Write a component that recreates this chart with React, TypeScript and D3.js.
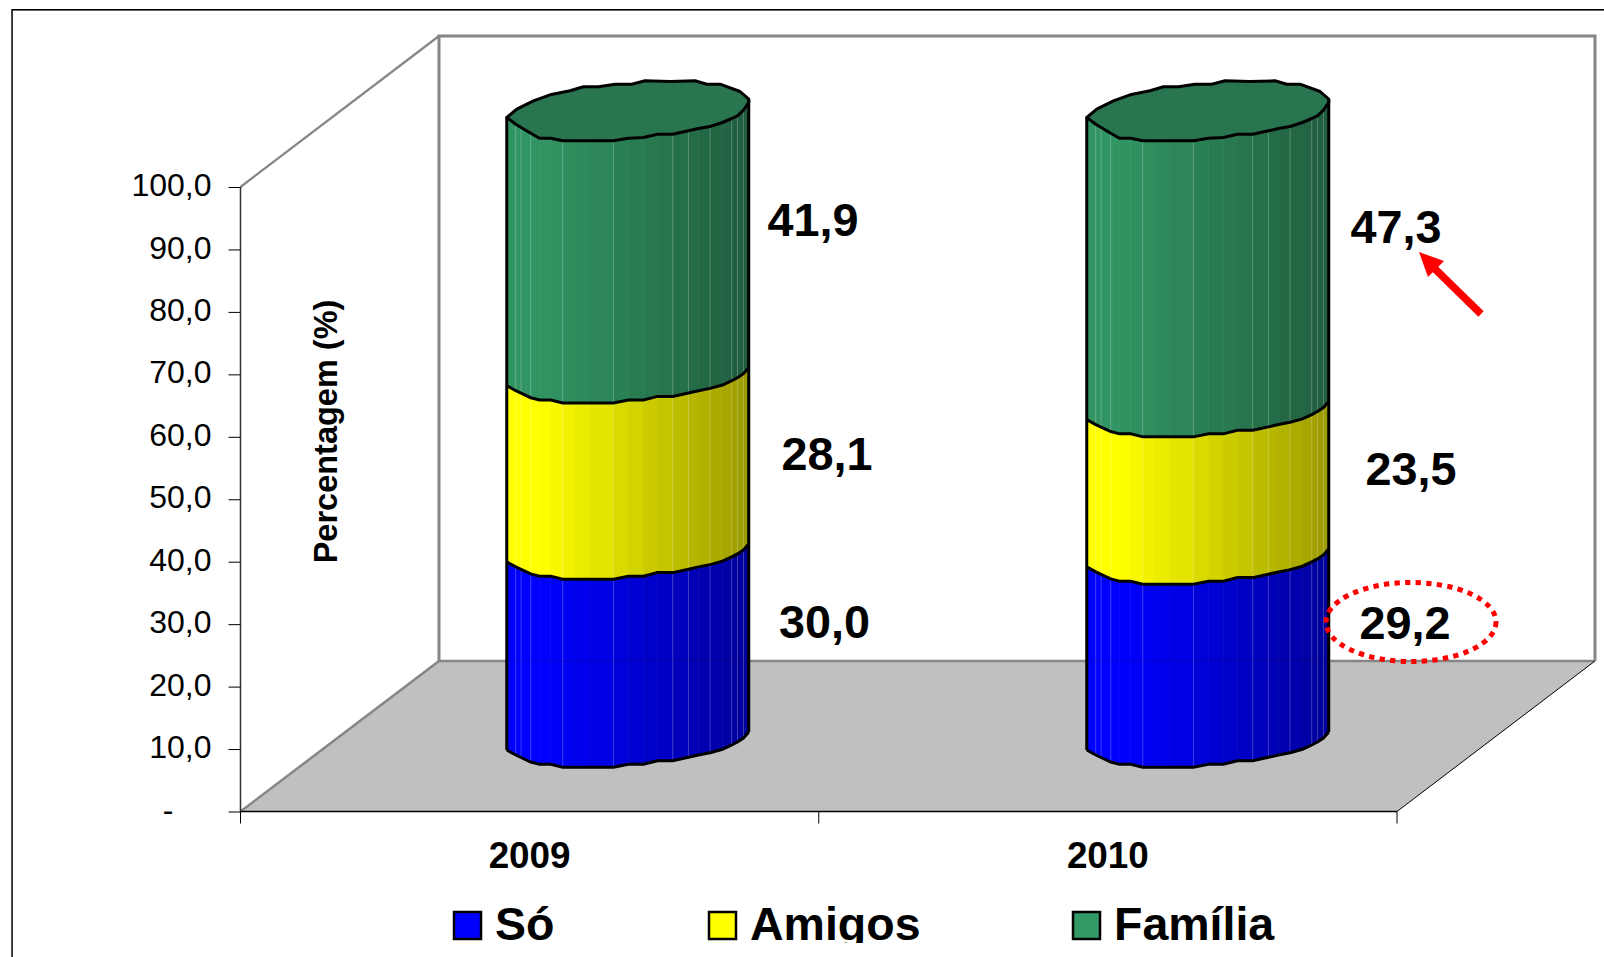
import React, { useEffect, useRef } from "react";
import * as d3 from "d3";

const years = ["2009", "2010"];
const seriesNames = ["Só", "Amigos", "Família"];
const soValues = [30.0, 29.2];
const amigosValues = [28.1, 23.5];
const familiaValues = [41.9, 47.3];
const yTicks = [0, 10, 20, 30, 40, 50, 60, 70, 80, 90, 100];

const baseColors = ["#0000ff", "#ffff00", "#319463"];
const darkColors = ["#000099", "#999900", "#1f5c3d"];
const legendColors = ["#0000ff", "#ffff00", "#339966"];

// jagged outline of the cylinder, px from its left point
const rimX = [0, 9, 14.3, 24, 32.7, 44, 56, 68.3, 83.3, 106.7, 121.7, 136.7, 150.7, 166, 181.7, 191.7, 203.3, 215.7, 225, 230.7, 236.7, 242];
const capFrontY = [0, 6.7, 10, 15.7, 20.7, 20.7, 23.3, 23.3, 23.3, 23.3, 20.7, 20, 16.7, 16.7, 13.3, 11, 9, 5, 1, -1.7, -7.3, -15];
const ringFrontY = [0, 5, 7.5, 12, 14.3, 14.3, 17.3, 17.3, 17.3, 17.3, 14.3, 14.3, 10.7, 10.7, 7.3, 5, 2.7, -0.7, -5, -8, -12, -18];
const capBack = [
  [242, -18.3], [233.3, -26], [213.3, -33.3], [200, -33.3], [188.3, -36.7], [163.3, -36], [138.3, -36.7],
  [125, -33.3], [108.3, -33.3], [91.7, -30.7], [76.7, -30.7], [63.3, -26.7], [43.3, -22.7], [26.7, -16.7],
  [10, -8.3], [0, 0],
];
const litEdges = [1, 2, 3, 6, 9, 13, 14, 16, 18, 19, 20];

const App = () => {
  const svgRef = useRef<SVGSVGElement>(null);

  useEffect(() => {
    const svg = d3.select(svgRef.current);
    svg.selectAll("*").remove();

    const font = "'Liberation Sans', Arial, sans-serif";
    const wall = { left: 439, right: 1595, top: 36, bottom: 661 };
    const floorX = 240.5;
    const floorRight = 1397;
    const depth = wall.left - floorX;

    const y = d3.scaleLinear().domain([0, 100]).range([811.5, 187]);
    const x = d3.scaleBand().domain(years).range([floorX, floorRight]);
    const barX = d3.scaleBand().domain(years).range([238, 1398]);
    const barY = d3.scaleLinear().domain([0, 100]).range([750, 123]);
    const capY = 117.5;
    const barWidth = 242;

    svg.append("rect").attr("x", 12.5).attr("y", 10.5).attr("width", 1700).attr("height", 1100)
      .attr("fill", "#fff").attr("stroke", "#aaa").attr("stroke-width", 1);
    svg.append("rect").attr("x", 12).attr("y", 9.7).attr("width", 1700).attr("height", 1100)
      .attr("fill", "none").attr("stroke", "#000").attr("stroke-width", 1.4);

    // walls and floor
    svg.append("path")
      .attr("d", `M${wall.left},${wall.bottom}V${wall.top}H${wall.right}V${wall.bottom}`)
      .attr("fill", "none").attr("stroke", "#868686").attr("stroke-width", 3);
    svg.append("path")
      .attr("d", `M${floorX},${y(100)}L${wall.left},${wall.top}`)
      .attr("fill", "none").attr("stroke", "#868686").attr("stroke-width", 2.2);
    svg.append("path")
      .attr("d", `M${floorX},${y(0)}L${wall.left},${wall.bottom}H${wall.right}L${floorRight},${y(0)}Z`)
      .attr("fill", "#c0c0c0");
    svg.append("path")
      .attr("d", `M${floorX},${y(0)}L${wall.left},${wall.bottom}H${wall.right}`)
      .attr("fill", "none").attr("stroke", "#868686").attr("stroke-width", 2.5);
    svg.append("path")
      .attr("d", `M${wall.right},${wall.bottom}L${floorRight},${y(0)}`)
      .attr("fill", "none").attr("stroke", "#000").attr("stroke-width", 1);

    // axes
    const yAxis = svg.append("g")
      .attr("transform", `translate(${floorX},0)`)
      .call(d3.axisLeft(y).tickValues(yTicks).tickSize(12).tickPadding(17)
        .tickFormat((d) => (d === 0 ? "-" : d3.format(".1f")(d as number).replace(".", ","))));
    yAxis.select(".domain").attr("d", `M0,${y(100)}V${y(0)}`).attr("stroke", "#333").attr("stroke-width", 1.5);
    yAxis.selectAll("line").attr("stroke", "#000").attr("stroke-width", 1);
    yAxis.selectAll("text").attr("font-family", font).attr("font-size", 32).attr("fill", "#000").attr("dy", "0.27em");
    // the zero dash sits further left because of the number format's padding
    yAxis.selectAll("text").filter((d) => d === 0).attr("dx", -38);

    const xAxis = svg.append("g").attr("transform", `translate(0,${y(0)})`);
    xAxis.append("path").attr("d", `M${floorX},0H${floorRight}`).attr("stroke", "#000").attr("stroke-width", 1.5);
    const edges = [...years.map((d) => x(d) as number), floorRight];
    xAxis.selectAll("line").data(edges).join("line")
      .attr("x1", (d) => d).attr("x2", (d) => d).attr("y1", 0).attr("y2", 12)
      .attr("stroke", "#000").attr("stroke-width", 1);
    xAxis.selectAll("text").data(years).join("text")
      .attr("x", (d) => (x(d) as number) + x.bandwidth() / 2).attr("y", 56)
      .attr("text-anchor", "middle").attr("font-family", font).attr("font-weight", "bold").attr("font-size", 37)
      .attr("textLength", 82).attr("lengthAdjust", "spacingAndGlyphs")
      .text((d) => d);

    svg.append("text")
      .attr("transform", "translate(337,431.5) rotate(-90)")
      .attr("text-anchor", "middle").attr("font-family", font).attr("font-weight", "bold").attr("font-size", 32.5)
      .text("Percentagem (%)");

    // stacked cylinders
    const rows = years.map((year, i) => ({ year, so: soValues[i], amigos: amigosValues[i], familia: familiaValues[i] }));
    const stacked = d3.stack<any>().keys(["so", "amigos", "familia"])(rows);
    const shade = d3.scaleLinear().domain([0, 0.12, 1]).range([0, 0, 1]).clamp(true);
    const line = d3.line();
    const ringAt = (yy: number) => rimX.map((dx, k) => [dx, yy + ringFrontY[k]] as [number, number]);
    const capFront = rimX.map((dx, k) => [dx, capFrontY[k]]);

    rows.forEach((row, i) => {
      const left = (barX(row.year) as number) + barX.bandwidth() / 2 + depth / 2 - barWidth / 2 + 0.5;
      const g = svg.append("g").attr("transform", `translate(${left},0)`);

      stacked.forEach((layer, s) => {
        const y0 = barY(layer[i][0]);
        const isTop = s === stacked.length - 1;
        const y1 = isTop ? capY : barY(layer[i][1]);
        const color = d3.interpolateRgb(baseColors[s], darkColors[s]);
        const lower = ringAt(y0);
        const upper = ringAt(y1);
        d3.pairs(d3.range(rimX.length)).forEach(([a, b]) => {
          g.append("path")
            .attr("d", `M${lower[a]}L${lower[b]}L${upper[b]}L${upper[a]}Z`)
            .attr("fill", color(shade(rimX[a] / barWidth)))
            .attr("stroke", color(shade(rimX[a] / barWidth)))
            .attr("stroke-width", 0.6);
        });
        litEdges.forEach((e) => {
          g.append("line").attr("x1", rimX[e]).attr("x2", rimX[e]).attr("y1", lower[e][1]).attr("y2", upper[e][1])
            .attr("stroke", "#fff").attr("stroke-opacity", 0.22).attr("stroke-width", 1);
        });
      });

      // back wall line shows faintly through the bar
      g.append("line").attr("x1", 0).attr("x2", barWidth).attr("y1", wall.bottom).attr("y2", wall.bottom)
        .attr("stroke", "#000").attr("stroke-opacity", 0.08).attr("stroke-width", 2);

      // rings and silhouette
      stacked.forEach((layer) => {
        g.append("path")
          .attr("d", line(ringAt(barY(layer[i][0]))))
          .attr("fill", "none").attr("stroke", "#000").attr("stroke-width", 3);
      });
      g.append("path").attr("d", line([...capFront, ...capBack].map(([dx, dy]) => [dx, capY + dy] as [number, number])) + "Z")
        .attr("fill", "#287550").attr("stroke", "#000").attr("stroke-width", 3).attr("stroke-linejoin", "round");
      g.append("line").attr("x1", 0).attr("x2", 0).attr("y1", capY).attr("y2", barY(0))
        .attr("stroke", "#000").attr("stroke-width", 3);
      g.append("line").attr("x1", barWidth).attr("x2", barWidth).attr("y1", capY - 18).attr("y2", barY(0) - 18)
        .attr("stroke", "#000").attr("stroke-width", 3);
    });

    // value labels, placed by hand next to each segment as in the source
    const labelX = [[824.5, 827, 813], [1405, 1411, 1396]];
    const labelY = [[638, 470, 236], [639, 485, 243]];
    stacked.forEach((layer, s) => {
      layer.forEach((d, i) => {
        svg.append("text")
          .attr("x", labelX[i][s]).attr("y", labelY[i][s])
          .attr("text-anchor", "middle").attr("font-family", font).attr("font-weight", "bold").attr("font-size", 46.8)
          .text(d3.format(".1f")(d[1] - d[0]).replace(".", ","));
      });
    });

    // highlights
    svg.append("ellipse").attr("cx", 1411).attr("cy", 622).attr("rx", 85).attr("ry", 39.5)
      .attr("fill", "none").attr("stroke", "#ff0000").attr("stroke-width", 5).attr("stroke-dasharray", "5.3 5.3");
    svg.append("line").attr("x1", 1481).attr("y1", 314).attr("x2", 1432).attr("y2", 266)
      .attr("stroke", "#ff0000").attr("stroke-width", 7.5);
    svg.append("path").attr("d", "M1419,252L1444,261L1428,277Z").attr("fill", "#ff0000");

    // legend, cut at the bottom like the source
    svg.append("clipPath").attr("id", "legend-clip").append("rect")
      .attr("x", 400).attr("y", 890).attr("width", 1000).attr("height", 53);
    const legend = svg.append("g").attr("clip-path", "url(#legend-clip)");
    const legendX = [453, 708, 1072];
    seriesNames.forEach((name, s) => {
      legend.append("rect").attr("x", legendX[s] + 1).attr("y", 912).attr("width", 27).attr("height", 27)
        .attr("fill", legendColors[s]).attr("stroke", "#000").attr("stroke-width", 2.5);
      legend.append("text").attr("x", legendX[s] + 42).attr("y", 940)
        .attr("font-family", font).attr("font-weight", "bold").attr("font-size", 46.5)
        .text(name);
    });
  }, []);

  return (
    <svg
      ref={svgRef}
      width={1604}
      height={957}
      style={{ position: "absolute", left: 0, top: 0, display: "block", background: "#fff" }}
    ></svg>
  );
};

export default App;
